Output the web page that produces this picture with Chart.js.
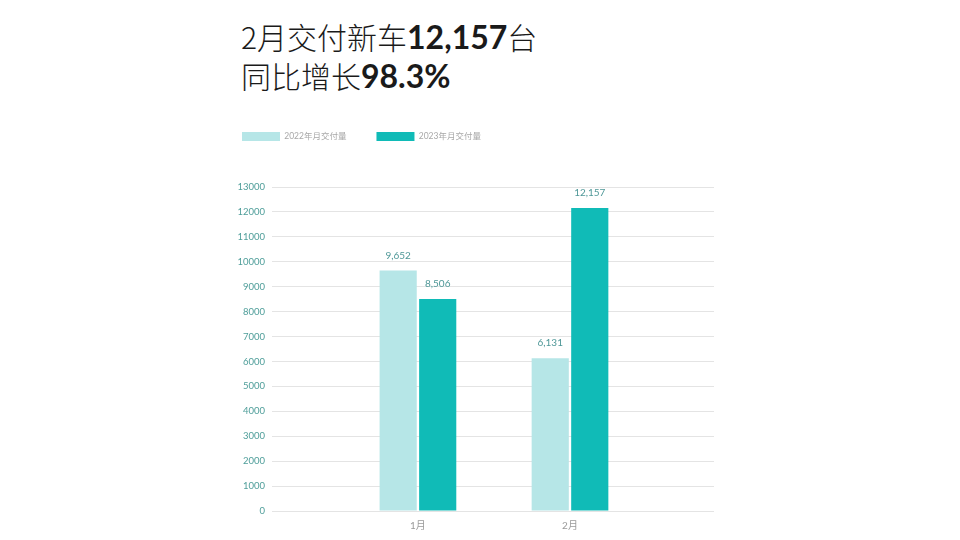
<!DOCTYPE html>
<html>
<head>
<meta charset="utf-8">
<script src="https://cdn.jsdelivr.net/npm/chart.js@4"></script>
<style>
  html, body { margin: 0; padding: 0; background: #fff; width: 960px; height: 540px; overflow: hidden; }
  #title { position: absolute; left: 241px; top: 17px; font-family: "Noto Sans CJK SC", sans-serif; font-size: 30px; line-height: 39px; color: #1a1a1a; font-weight: 300; }
  #title b { font-family: "Lato", "Noto Sans CJK SC", sans-serif; font-weight: 700; font-size: 32px; }
  #wrap { position: absolute; left: 212px; top: 102px; width: 520px; height: 438px; }
</style>
</head>
<body>
<div id="title">2月交付新车<b>12,157</b>台<br>同比增长<b>98.3%</b></div>
<div id="wrap"><canvas id="c"></canvas></div>
<script>
const categories = ["1月", "2月"];
const seriesNames = ["2022年月交付量", "2023年月交付量"];
const values2022 = [9652, 6131];
const values2023 = [8506, 12157];
const yTicks = [0, 1000, 2000, 3000, 4000, 5000, 6000, 7000, 8000, 9000, 10000, 11000, 12000, 13000];

const fmt = v => v.toLocaleString("en-US");

const legendSpacer = {
  id: "legendSpacer",
  beforeInit(chart) {
    const lg = chart.legend;
    if (!lg) return;
    const orig = lg.fit;
    lg.fit = function () { orig.call(this); this.height += 36; };
  }
};

const valueLabels = {
  id: "valueLabels",
  afterDatasetsDraw(chart) {
    const ctx = chart.ctx;
    ctx.save();
    ctx.font = "10px Lato, 'Noto Sans', sans-serif";
    ctx.fillStyle = "#4f9898";
    ctx.textAlign = "center";
    ctx.textBaseline = "middle";
    chart.data.datasets.forEach((ds, i) => {
      chart.getDatasetMeta(i).data.forEach((bar, j) => {
        ctx.fillText(fmt(ds.data[j].y), bar.x, bar.y - 15);
      });
    });
    ctx.restore();
  }
};

new Chart(document.getElementById("c"), {
  type: "bar",
  data: {
    datasets: [
      { label: seriesNames[0], data: categories.map((c, i) => ({ x: i, y: values2022[i] })), backgroundColor: "#b6e6e7" },
      { label: seriesNames[1], data: categories.map((c, i) => ({ x: i, y: values2023[i] })), backgroundColor: "#10bbb7" }
    ]
  },
  options: {
    responsive: true,
    maintainAspectRatio: false,
    animation: false,
    layout: { padding: { right: 18, top: 0, bottom: 0, left: 0 } },
    categoryPercentage: 0.52,
    barPercentage: 0.94,
    plugins: {
      legend: {
        align: "start",
        labels: { boxWidth: 38, boxHeight: 9, color: "#a8a8a8", padding: 30,
          font: { size: 8.5, family: "Lato, 'Noto Sans CJK SC', sans-serif" } }
      },
      tooltip: { enabled: false }
    },
    scales: {
      x: {
        type: "linear",
        offset: false,
        min: -0.94,
        max: 1.947,
        grid: { display: false },
        border: { display: false },
        afterBuildTicks(scale) { scale.ticks = categories.map((c, i) => ({ value: i })); },
        afterFit(scale) { scale.height = 29; },
        ticks: {
          padding: 1,
          color: "#9a9a9a",
          font: { size: 10, family: "Lato, 'Noto Sans CJK SC', sans-serif" },
          callback: v => categories[v] ?? ""
        }
      },
      y: {
        min: 0,
        max: 13000,
        afterBuildTicks(scale) { scale.ticks = yTicks.map(v => ({ value: v })); },
        afterFit(scale) { scale.width = 63; },
        grid: { color: "#e4e4e4", lineWidth: 1, tickLength: 3, drawTicks: true },
        border: { display: false },
        ticks: {
          padding: 7,
          color: "#4f9e9a",
          font: { size: 9.5, family: "Lato, 'Noto Sans', sans-serif" },
          callback: v => String(v)
        }
      }
    }
  },
  plugins: [legendSpacer, valueLabels]
});
</script>
</body>
</html>
